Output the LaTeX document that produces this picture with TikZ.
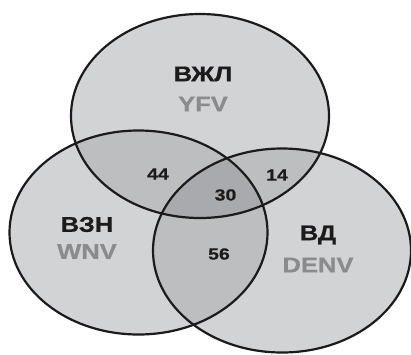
\documentclass[tikz,border=0pt]{standalone}
\usepackage{fontspec}
\setmainfont{Liberation Sans}[FakeStretch=1.2, FakeBold=0.6]
\definecolor{base}{HTML}{D1D3D4}
\definecolor{pair}{HTML}{BCBEC0}
\definecolor{triple}{HTML}{A8AAAD}
\definecolor{edge}{HTML}{1C1A1B}
\definecolor{latin}{HTML}{898B8D}
\tikzset{
  oval/.style={x radius=129pt, y radius=102pt},
  ring/.style={draw=edge, line width=2.2pt},
  setname/.style={font=\bfseries\fontsize{21.3}{21.3}\selectfont, text=edge, inner sep=0pt},
  abbr/.style={font=\bfseries\fontsize{21.3}{21.3}\selectfont, text=latin, inner sep=0pt},
  count/.style={font=\bfseries\fontsize{16.2}{16.2}\selectfont, text=edge, inner sep=0pt}
}
\begin{document}
\begin{tikzpicture}[x=1pt,y=-1pt]
\useasboundingbox (0,0) rectangle (411,354);
\coordinate (cY) at (200,116);
\coordinate (cW) at (138.5,232.5);
\coordinate (cD) at (282,250.5);

% single regions
\fill[base] (cY) ellipse [oval];
\fill[base] (cW) ellipse [oval];
\fill[base] (cD) ellipse [oval];

% pairwise overlaps
\begin{scope}
  \clip (cY) ellipse [oval];
  \fill[pair] (cW) ellipse [oval];
  \fill[pair] (cD) ellipse [oval];
\end{scope}
\begin{scope}
  \clip (cW) ellipse [oval];
  \fill[pair] (cD) ellipse [oval];
\end{scope}

% common overlap
\begin{scope}
  \clip (cY) ellipse [oval];
  \clip (cW) ellipse [oval];
  \fill[triple] (cD) ellipse [oval];
\end{scope}

% outlines
\draw[ring] (cY) ellipse [oval];
\draw[ring] (cW) ellipse [oval];
\draw[ring] (cD) ellipse [oval];

% set labels
\node[setname] (nY) at (203,74) {ВЖЛ};
\node[abbr] (aY) at (203,104) {YFV};
\node[setname] (nW) at (87,224.5) {ВЗН};
\node[abbr] (aW) at (87,251.5) {WNV};
\node[setname] (nD) at (318,235) {ВД};
\node[abbr] (aD) at (318,265) {DENV};

% overlap counts
\node[count] (yw) at (158,174) {44};
\node[count] (ywd) at (225.5,195) {30};
\node[count] (yd) at (277,175) {14};
\node[count] (wd) at (219,254) {56};
\end{tikzpicture}
\end{document}
